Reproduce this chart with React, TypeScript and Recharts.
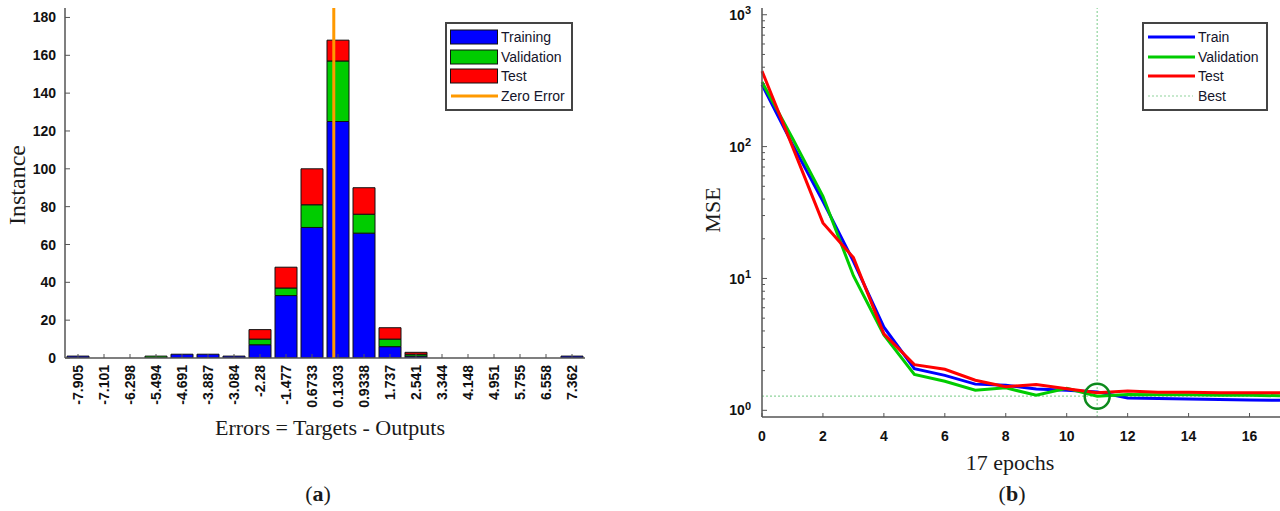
import React from 'react';
import {
  Bar,
  BarChart,
  Legend,
  Line,
  LineChart,
  ReferenceDot,
  ReferenceLine,
  XAxis,
  YAxis,
} from 'recharts';

// ---- (a) error histogram ----
const binLabels = [
  '-7.905', '-7.101', '-6.298', '-5.494', '-4.691', '-3.887', '-3.084', '-2.28', '-1.477', '0.6733',
  '0.1303', '0.9338', '1.737', '2.541', '3.344', '4.148', '4.951', '5.755', '6.558', '7.362',
];
const binCenters = [
  -7.905, -7.101, -6.298, -5.494, -4.691, -3.887, -3.084, -2.28, -1.477, -0.6733,
  0.1303, 0.9338, 1.737, 2.541, 3.344, 4.148, 4.951, 5.755, 6.558, 7.362,
];
const trainingCounts = [1, 0, 0, 0, 2, 2, 1, 7, 33, 69, 125, 66, 6, 1, 0, 0, 0, 0, 0, 1];
const validationCounts = [0, 0, 0, 1, 0, 0, 0, 3, 4, 12, 32, 10, 4, 1, 0, 0, 0, 0, 0, 0];
const testCounts = [0, 0, 0, 0, 0, 0, 0, 5, 11, 19, 11, 14, 6, 1, 0, 0, 0, 0, 0, 0];
const instanceTicks = [0, 20, 40, 60, 80, 100, 120, 140, 160, 180];
// outer bin edges of the error axis, used to place the zero error line
const errorRange = [-8.3068, 7.7638];
const zeroError = 0;

// ---- (b) performance ----
const epochs = [0, 1, 2, 3, 4, 5, 6, 7, 8, 9, 10, 11, 12, 13, 14, 15, 16, 17];
const trainPerf = [295, 104, 38.5, 13.5, 4.27, 2.07, 1.84, 1.58, 1.55, 1.45, 1.42, 1.38, 1.24, 1.23, 1.22, 1.21, 1.2, 1.19];
const validationPerf = [309, 116, 42, 10.5, 3.73, 1.87, 1.66, 1.42, 1.48, 1.3, 1.47, 1.28, 1.32, 1.31, 1.31, 1.3, 1.3, 1.29];
const testPerf = [374, 100, 26.4, 14.4, 3.8, 2.22, 2.05, 1.69, 1.51, 1.57, 1.46, 1.36, 1.4, 1.37, 1.37, 1.36, 1.36, 1.36];
const epochTicks = [0, 2, 4, 6, 8, 10, 12, 14, 16];
const decadeTicks = [1, 10, 100, 1000];
const minorSteps = [2, 3, 4, 5, 6, 7, 8, 9];
const bestEpoch = 11;

const histData = binLabels.map((bin, i) => ({
  bin,
  center: binCenters[i],
  training: trainingCounts[i],
  validation: validationCounts[i],
  test: testCounts[i],
}));

const perfData = epochs.map((epoch, i) => ({
  epoch,
  train: trainPerf[i],
  validation: validationPerf[i],
  test: testPerf[i],
}));

const bestPerf = validationPerf[epochs.indexOf(bestEpoch)];

const logTicks = decadeTicks.flatMap((d, i) =>
  i < decadeTicks.length - 1 ? [d, ...minorSteps.map((m) => m * d)] : [d]
);

const BLUE = '#0000ff';
const GREEN = '#00cc00';
const RED = '#ff0000';
const ORANGE = '#ff9900';
const BEST = '#8fd49c';
const AXIS = '#555555';
const TICK_FONT = '"Liberation Sans", Arial, sans-serif';
const SERIF = '"Liberation Serif", "Times New Roman", serif';
const TICK_SIZE = 6;
const TICK_MARGIN = 2;
const OFF = TICK_SIZE + TICK_MARGIN;

const tickText = {
  fontFamily: TICK_FONT,
  fontWeight: 700,
  fontSize: 14,
  fill: '#111',
};

function BinTick({ x, y, payload }: any) {
  const axisY = y - OFF;
  const ty = axisY + 7;
  return (
    <g>
      <line x1={x} x2={x} y1={axisY} y2={axisY - 4} stroke={AXIS} />
      <text
        x={x}
        y={ty}
        dy="0.36em"
        textAnchor="end"
        transform={`rotate(-90, ${x}, ${ty})`}
        style={tickText}
      >
        {payload.value}
      </text>
    </g>
  );
}

function CountTick({ x, y, payload }: any) {
  const axisX = x + OFF;
  return (
    <g>
      <line x1={axisX} x2={axisX + 5} y1={y} y2={y} stroke={AXIS} />
      <text x={axisX - 9} y={y} dy="0.36em" textAnchor="end" style={tickText}>
        {payload.value}
      </text>
    </g>
  );
}

function EpochTick({ x, y, payload }: any) {
  const axisY = y - OFF;
  return (
    <g>
      <line x1={x} x2={x} y1={axisY} y2={axisY - 4} stroke={AXIS} />
      <text x={x} y={axisY + 19} dy="0.36em" textAnchor="middle" style={tickText}>
        {payload.value}
      </text>
    </g>
  );
}

function LogTick({ x, y, payload }: any) {
  const axisX = x + OFF;
  const v = payload.value;
  const exp = Math.round(Math.log10(v));
  const major = decadeTicks.includes(v);
  return (
    <g>
      <line x1={axisX} x2={axisX + (major ? 5 : 3)} y1={y} y2={y} stroke={AXIS} />
      {major && (
        <text x={axisX - 11} y={y} dy="0.36em" textAnchor="end" style={tickText}>
          10
          <tspan dy="-0.5em" fontSize={11}>
            {exp}
          </tspan>
        </text>
      )}
    </g>
  );
}

const legendBox: React.CSSProperties = {
  boxSizing: 'border-box',
  border: '2px solid #444',
  background: '#fff',
  padding: '3px 6px 3px 3px',
  fontFamily: TICK_FONT,
  fontSize: 14,
  color: '#14142a',
  lineHeight: 1,
};

const histLegendItems = [
  { name: 'Training', color: BLUE, kind: 'box' },
  { name: 'Validation', color: GREEN, kind: 'box' },
  { name: 'Test', color: RED, kind: 'box' },
  { name: 'Zero Error', color: ORANGE, kind: 'line' },
];

const perfLegendItems = [
  { name: 'Train', color: BLUE, kind: 'line' },
  { name: 'Validation', color: GREEN, kind: 'line' },
  { name: 'Test', color: RED, kind: 'line' },
  { name: 'Best', color: BEST, kind: 'dotted' },
];

function BoxLegend({ items, width }: { items: typeof histLegendItems; width: number }) {
  return (
    <div style={{ ...legendBox, width }}>
      {items.map((item) => (
        <div key={item.name} style={{ display: 'flex', alignItems: 'center', height: 19.7 }}>
          <svg width={51} height={16} style={{ display: 'block' }}>
            {item.kind === 'box' && (
              <rect x={0.5} y={1} width={47} height={14} fill={item.color} stroke="#111" />
            )}
            {item.kind === 'line' && (
              <line x1={1} x2={48} y1={8} y2={8} stroke={item.color} strokeWidth={3} />
            )}
            {item.kind === 'dotted' && (
              <line x1={1} x2={46} y1={8} y2={8} stroke={item.color} strokeWidth={1.2} strokeDasharray="2 2" />
            )}
          </svg>
          <span>{item.name}</span>
        </div>
      ))}
    </div>
  );
}

export default function App() {
  return (
    <div style={{ position: 'absolute', left: 0, top: 0, width: 1280, height: 511, background: '#fff' }}>
      <div style={{ position: 'absolute', left: 0, top: 0 }}>
        <BarChart
          width={600}
          height={511}
          data={histData}
          margin={{ top: 8, right: 15, left: 0, bottom: 0 }}
          barCategoryGap={2}
        >
          <XAxis
            dataKey="bin"
            height={153}
            interval={0}
            tickSize={TICK_SIZE}
            tickMargin={TICK_MARGIN}
            tickLine={false}
            tick={<BinTick />}
            axisLine={{ stroke: AXIS, strokeWidth: 1.5 }}
          />
          <XAxis
            xAxisId="err"
            dataKey="center"
            type="number"
            domain={errorRange}
            allowDataOverflow
            hide
          />
          <YAxis
            width={65}
            domain={[0, 185]}
            ticks={instanceTicks}
            interval={0}
            allowDataOverflow
            tickSize={TICK_SIZE}
            tickMargin={TICK_MARGIN}
            tickLine={false}
            tick={<CountTick />}
            axisLine={{ stroke: AXIS, strokeWidth: 1.5 }}
          />
          <Bar dataKey="training" name="Training" stackId="h" fill={BLUE} stroke="#111" strokeWidth={1} isAnimationActive={false} />
          <Bar dataKey="validation" name="Validation" stackId="h" fill={GREEN} stroke="#111" strokeWidth={1} isAnimationActive={false} />
          <Bar dataKey="test" name="Test" stackId="h" fill={RED} stroke="#111" strokeWidth={1} isAnimationActive={false} />
          <ReferenceLine xAxisId="err" x={zeroError} stroke={ORANGE} strokeWidth={3} />
          <Legend
            layout="vertical"
            align="center"
            verticalAlign="middle"
            wrapperStyle={{ left: 445, top: 22 }}
            content={() => <BoxLegend items={histLegendItems} width={128} />}
          />
        </BarChart>
      </div>

      <div style={{ position: 'absolute', left: 690, top: 0 }}>
        <LineChart
          width={590}
          height={511}
          data={perfData}
          margin={{ top: 8, right: 0, left: 0, bottom: 54 }}
        >
          <XAxis
            dataKey="epoch"
            type="number"
            domain={[0, 17]}
            ticks={epochTicks}
            interval={0}
            height={40}
            tickSize={TICK_SIZE}
            tickMargin={TICK_MARGIN}
            tickLine={false}
            tick={<EpochTick />}
            axisLine={{ stroke: AXIS, strokeWidth: 1.5 }}
          />
          <YAxis
            width={72}
            scale="log"
            domain={[0.89, 1125]}
            allowDataOverflow
            ticks={logTicks}
            interval={0}
            tickSize={TICK_SIZE}
            tickMargin={TICK_MARGIN}
            tickLine={false}
            tick={<LogTick />}
            axisLine={{ stroke: AXIS, strokeWidth: 1.5 }}
          />
          <ReferenceLine x={bestEpoch} stroke={BEST} strokeWidth={1.2} strokeDasharray="2 2" />
          <ReferenceLine y={bestPerf} stroke={BEST} strokeWidth={1.2} strokeDasharray="2 2" />
          <Line type="linear" dataKey="train" name="Train" stroke={BLUE} strokeWidth={3} dot={false} isAnimationActive={false} />
          <Line type="linear" dataKey="validation" name="Validation" stroke={GREEN} strokeWidth={3} dot={false} isAnimationActive={false} />
          <Line type="linear" dataKey="test" name="Test" stroke={RED} strokeWidth={3} dot={false} isAnimationActive={false} />
          <ReferenceDot x={bestEpoch} y={bestPerf} r={12.5} fill="none" stroke="#0c8a1c" strokeWidth={2.5} />
          <Legend
            layout="vertical"
            align="center"
            verticalAlign="middle"
            wrapperStyle={{ left: 452, top: 22 }}
            content={() => <BoxLegend items={perfLegendItems} width={126} />}
          />
        </LineChart>
      </div>

      <svg
        width={1280}
        height={511}
        style={{ position: 'absolute', left: 0, top: 0, pointerEvents: 'none' }}
        fontFamily={SERIF}
        fill="#1a1a1a"
      >
        <text x={17} y={185} fontSize={24} textAnchor="middle" dy="0.35em" transform="rotate(-90, 17, 185)">
          Instance
        </text>
        <text x={330} y={427} fontSize={22} textAnchor="middle" dy="0.35em">
          Errors = Targets - Outputs
        </text>
        <text x={712} y={210} fontSize={22} textAnchor="middle" dy="0.35em" transform="rotate(-90, 712, 210)">
          MSE
        </text>
        <text x={1010} y={462} fontSize={22} textAnchor="middle" dy="0.35em">
          17 epochs
        </text>
        <text x={318} y={493} fontSize={22} textAnchor="middle" dy="0.35em">
          (<tspan fontWeight={700}>a</tspan>)
        </text>
        <text x={1012} y={493} fontSize={22} textAnchor="middle" dy="0.35em">
          (<tspan fontWeight={700}>b</tspan>)
        </text>
      </svg>
    </div>
  );
}
